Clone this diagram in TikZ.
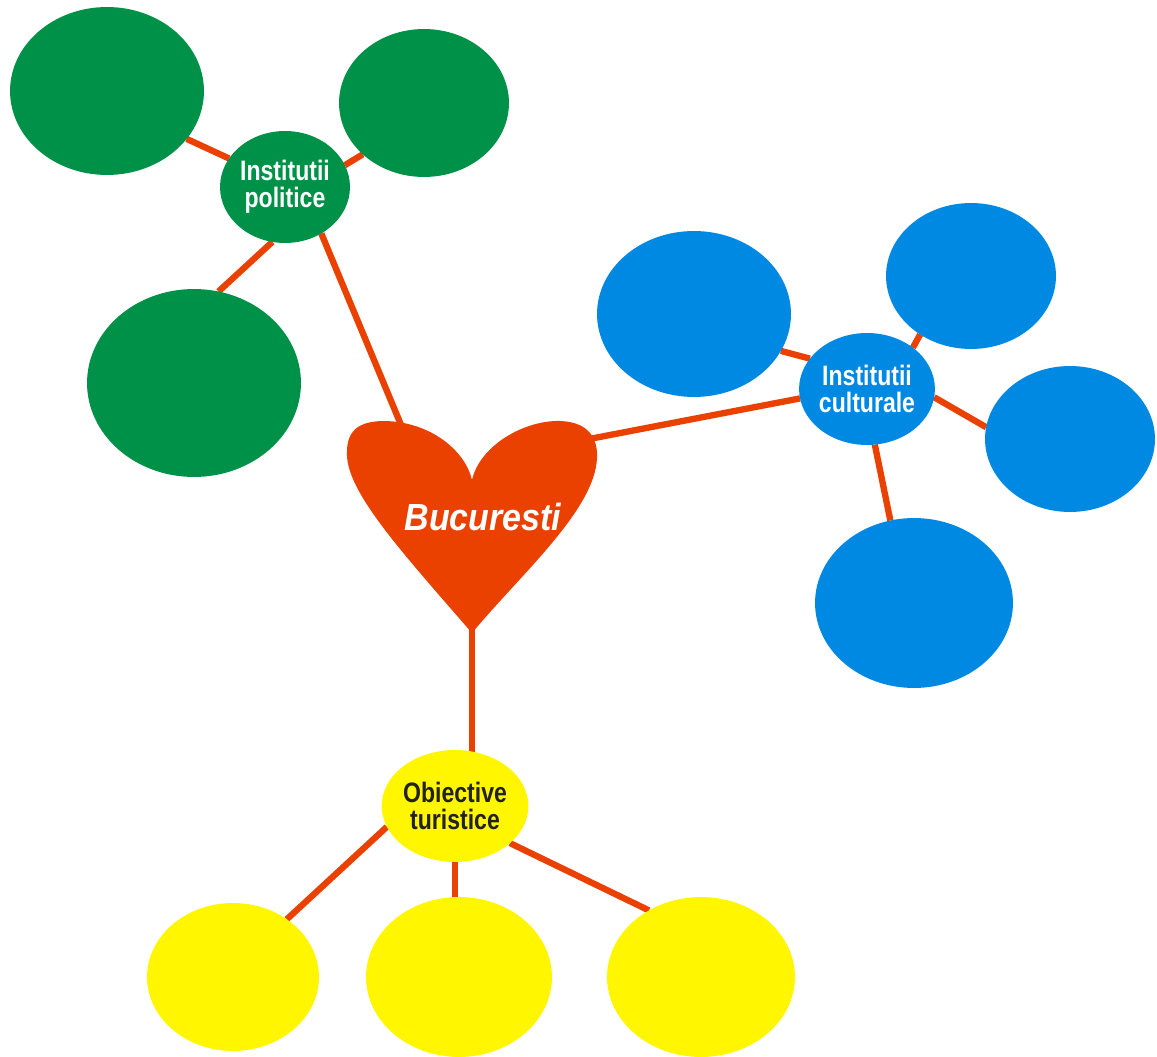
\documentclass[tikz,border=0pt]{standalone}
\usepackage{fontspec}
\setmainfont{Liberation Sans}
\newfontfamily\nf[FakeStretch=0.82]{Liberation Sans}
\newfontfamily\hf[FakeStretch=0.9]{Liberation Sans}
\usetikzlibrary{shapes.geometric,backgrounds}
\definecolor{cgreen}{RGB}{0,145,72}
\definecolor{cblue}{RGB}{0,137,226}
\definecolor{cyellow}{RGB}{255,246,0}
\definecolor{cred}{RGB}{234,64,0}
\definecolor{ctext}{RGB}{34,34,34}
\begin{document}
\begin{tikzpicture}[x=0.02cm,y=-0.02cm,
  blob/.style 2 args={ellipse, draw=none, inner sep=0pt, outer sep=0pt,
    minimum width={#1*0.04cm}, minimum height={#2*0.04cm}},
  green/.style={fill=cgreen},
  blue/.style={fill=cblue},
  yellow/.style={fill=cyellow},
  hub/.style={align=center, font=\nf\bfseries\fontsize{16}{15.5}\selectfont},
  title/.style={text=white, font=\hf\bfseries\itshape\fontsize{21.5}{24}\selectfont},
  link/.style={draw=cred, line width=3.6pt}]
\useasboundingbox (0,0) rectangle (1157,1057);

% green group
\node[blob={97}{84}, green] (g1) at (107,91) {};
\node[blob={85}{74}, green] (g2) at (424,103) {};
\node[blob={107}{94}, green] (g3) at (194,383) {};
\node[blob={65}{56}, green, hub, text=white] (pol) at (285,187) {Institutii\\politice};

% blue group
\node[blob={97}{83}, blue] (b1) at (694,314) {};
\node[blob={85}{73}, blue] (b2) at (971,276) {};
\node[blob={85}{73}, blue] (b3) at (1070,439) {};
\node[blob={99}{85}, blue] (b4) at (914,603) {};
\node[blob={64}{56}, blue, hub, text=white] (cul) at (867,389) {Institutii\\culturale};

% yellow group
\node[blob={67}{56}, yellow, hub, text=ctext] (obj) at (455,806) {Obiective\\turistice};
\node[blob={86}{74}, yellow] (y1) at (233,977) {};
\node[blob={93}{80}, yellow] (y2) at (459,977) {};
\node[blob={94}{80}, yellow] (y3) at (701,977) {};

% heart
\fill[cred] (472,633) .. controls (400,550) and (345,490) .. (347,452)
  .. controls (347,428) and (362,421) .. (385,421)
  .. controls (430,422) and (465,450) .. (472,480)
  .. controls (480,445) and (525,420) .. (560,421)
  .. controls (590,422) and (598,440) .. (597,458)
  .. controls (595,510) and (520,575) .. (472,633) -- cycle;
\node[title] (heart) at (483,517) {Bucuresti};
\coordinate (hl) at (404,432);
\coordinate (hr) at (584,440);
\coordinate (htip) at (472,625);

\begin{scope}[on background layer]
\draw[link] (g1.-31) -- (pol.153);
\draw[link] (pol.20) -- (g2.220);
\draw[link] (pol.257) -- (g3.75);
\draw[link] (pol.-52) -- (hl);
\draw[link] (hr) -- (cul.188);
\draw[link] (cul.152) -- (b1.-23);
\draw[link] (cul.42) -- (b2.229);
\draw[link] (cul.-7) -- (b3.172);
\draw[link] (cul.-82) -- (b4.106);
\draw[link] (htip) -- (htip |- obj.center);
\draw[link] (obj.197) -- (y1.47);
\draw[link] (obj.south) -- (obj.south |- y2.center);
\draw[link] (obj.-34) -- (y3.128);
\end{scope}
\end{tikzpicture}
\end{document}
